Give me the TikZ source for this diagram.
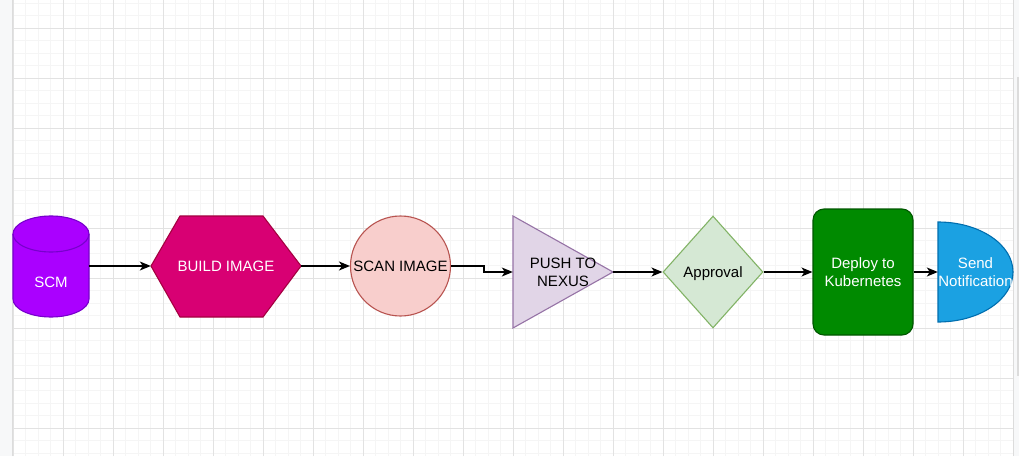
\documentclass[tikz,border=0pt]{standalone}
\usepackage{fontspec}
\setmainfont{Liberation Sans}
\usetikzlibrary{arrows.meta,shapes.geometric}
\definecolor{gridminor}{HTML}{F5F5F5}
\definecolor{gridmajor}{HTML}{E2E2E2}
\definecolor{sidebg}{HTML}{F7F8F9}
\definecolor{sideline}{HTML}{DCDCDC}
\definecolor{scmfill}{HTML}{AA00FF}
\definecolor{scmline}{HTML}{7700CC}
\definecolor{buildfill}{HTML}{D80073}
\definecolor{buildline}{HTML}{A50040}
\definecolor{scanfill}{HTML}{F8CECC}
\definecolor{scanline}{HTML}{B85450}
\definecolor{pushfill}{HTML}{E1D5E7}
\definecolor{pushline}{HTML}{9673A6}
\definecolor{apprfill}{HTML}{D5E8D4}
\definecolor{apprline}{HTML}{82B366}
\definecolor{depfill}{HTML}{008A00}
\definecolor{depline}{HTML}{005700}
\definecolor{sendfill}{HTML}{1BA1E2}
\definecolor{sendline}{HTML}{006EAF}
\tikzset{
  lbl/.style={font=\fontsize{15}{18}\selectfont, align=center, inner sep=0pt},
  boxnode/.style={lbl, rectangle, minimum width=#1},
  flow/.style={line width=1.25pt, -{Stealth[length=11pt,width=9pt,inset=3pt]}},
  shapeline/.style={line width=1.1pt}
}
\begin{document}
\begin{tikzpicture}[x=1pt,y=1pt]
\useasboundingbox (0,0) rectangle (1019,456);
% background and grid
\fill[white] (0,0) rectangle (1019,456);
\foreach \i in {0,...,80} \draw[gridminor,line width=0.8pt] ({13+12.5*\i},0) -- ({13+12.5*\i},456);
\foreach \j in {0,...,36} \draw[gridminor,line width=0.8pt] (13,{3+12.5*\j}) -- (1013,{3+12.5*\j});
\foreach \i in {0,...,20} \draw[gridmajor,line width=0.9pt] ({13+50*\i},0) -- ({13+50*\i},456);
\foreach \j in {0,...,8} \draw[gridmajor,line width=0.9pt] (13,{28+50*\j}) -- (1013,{28+50*\j});
\fill[sidebg] (0,0) rectangle (12,456);
\draw[sideline,line width=1pt] (12.5,0) -- (12.5,456);
\fill[sidebg] (1013.5,0) rectangle (1019,456);
\draw[sideline,line width=0.8pt] (1013.5,0) -- (1013.5,456);
\fill[sideline] (1016.5,80) rectangle (1019,379);

% SCM cylinder
\filldraw[fill=scmfill,draw=scmline,shapeline] (13,222) -- (13,157)
  arc[start angle=180,end angle=360,x radius=38,y radius=18] -- (89,222)
  arc[start angle=0,end angle=180,x radius=38,y radius=18] -- cycle;
\draw[scmline,shapeline] (13,222) arc[start angle=180,end angle=360,x radius=38,y radius=18];
\node[boxnode=76, minimum height=30, text=white] (scm) at (51,174) {SCM};

% BUILD IMAGE hexagon
\filldraw[fill=buildfill,draw=buildline,shapeline] (151,190) -- (180,240) -- (263,240) -- (301,190) -- (263,139) -- (180,139) -- cycle;
\node[boxnode=150, minimum height=101, text=white] (build) at (226,190) {BUILD IMAGE};

% SCAN IMAGE circle
\node[lbl, circle, minimum size=100, fill=scanfill, draw=scanline, shapeline] (scan) at (400.5,190) {SCAN IMAGE};

% PUSH TO NEXUS triangle
\filldraw[fill=pushfill,draw=pushline,shapeline] (513,240) -- (613,184) -- (513,128) -- cycle;
\node[boxnode=100, minimum height=112] (push) at (563,184) {PUSH TO\\NEXUS};

% Approval diamond
\node[lbl, diamond, text depth=0pt, minimum width=100, minimum height=112, fill=apprfill, draw=apprline, shapeline] (appr) at (713,184) {Approval};

% Deploy rounded rectangle
\node[lbl, rectangle, rounded corners=11pt, minimum width=100, minimum height=126, fill=depfill, draw=depline, shapeline, text=white] (deploy) at (863,184) {Deploy to\\Kubernetes};

% Send Notification half ellipse
\filldraw[fill=sendfill,draw=sendline,shapeline] (938,234)
  arc[start angle=90,end angle=-90,x radius=75,y radius=50] -- cycle;
\node[boxnode=75, minimum height=100, text=white] (send) at (975.5,184) {Send\\Notification};

% connectors
\draw[flow] (scm.east |- build.west) -- (build.west);
\draw[flow] (build.east) -- (scan.west);
\draw[flow] (scan.east) -- ++(33,0) |- (push.west);
\draw[flow] (push.east) -- (appr.west);
\draw[flow] (appr.east) -- (deploy.west);
\draw[flow] (deploy.east) -- (send.west);
\end{tikzpicture}
\end{document}
